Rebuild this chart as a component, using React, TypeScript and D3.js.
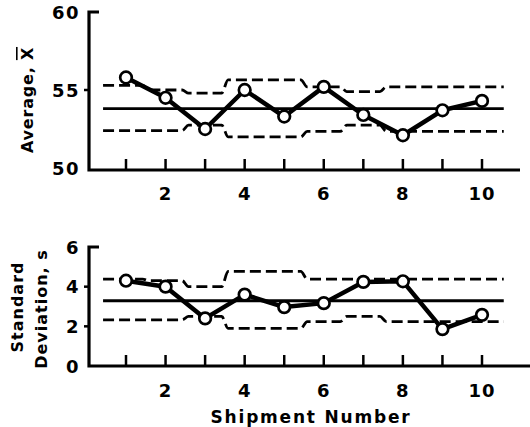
import React from "react";
import * as d3 from "d3";

// shipment numbers 1..10
const shipments = [1, 2, 3, 4, 5, 6, 7, 8, 9, 10];

// average chart
const avgValues = [55.8, 54.5, 52.5, 55.0, 53.3, 55.2, 53.4, 52.1, 53.7, 54.3];
const avgCenter = 53.8;
const avgUpper = [55.3, 55.0, 54.8, 55.65, 55.65, 55.2, 54.9, 55.2, 55.2, 55.2];
const avgLower = [52.4, 52.4, 52.75, 52.0, 52.0, 52.35, 52.75, 52.35, 52.35, 52.35];
const avgTicks = [50, 55, 60];

// standard deviation chart
const sdValues = [4.3, 4.0, 2.4, 3.6, 2.97, 3.17, 4.24, 4.27, 1.86, 2.58];
const sdCenter = 3.29;
const sdUpper = [4.38, 4.3, 4.0, 4.77, 4.77, 4.38, 4.38, 4.38, 4.38, 4.38];
const sdLower = [2.33, 2.33, 2.5, 1.9, 1.9, 2.24, 2.5, 2.24, 2.24, 2.24];
const sdTicks = [0, 2, 4, 6];

const xTickLabels = [2, 4, 6, 8, 10];

const FONT = "'DejaVu Sans', sans-serif";

const x = d3.scaleLinear().domain([1, 10]).range([126, 482]);

interface PanelProps {
  values: number[];
  center: number;
  upper: number[];
  lower: number[];
  ticks: number[];
  y: d3.ScaleLinear<number, number>;
  axisY: number;
  axisEnd: number;
  labelY: number;
}

const Panel = ({ values, center, upper, lower, ticks, y, axisY, axisEnd, labelY }: PanelProps) => {
  const [lo, hi] = y.domain();
  const stepLine = d3
    .line<[number, number]>()
    .x((d) => x(d[0]))
    .y((d) => y(d[1]))
    .curve(d3.curveMonotoneX);
  // flat run per shipment, smooth hand-drawn step between shipments
  const limitPts = (arr: number[]) => {
    const pts: [number, number][] = [];
    arr.forEach((v, i) => {
      const s = shipments[i];
      pts.push([i === 0 ? 0.42 : s - 0.42, v]);
      pts.push([i === arr.length - 1 ? 10.55 : s + 0.42, v]);
    });
    return pts;
  };
  const dataLine = d3
    .line<number>()
    .x((_, i) => x(shipments[i]))
    .y((d) => y(d));
  const axisX = 89;
  return (
    <g>
      {/* axes */}
      <path
        d={`M${axisX + 10},${y(hi)}H${axisX}V${axisY}H${axisEnd}`}
        fill="none"
        stroke="#000"
        strokeWidth={3.2}
      />
      {ticks.map((t) => (
        <g key={t}>
          {t !== hi && t !== lo && (
            <line x1={axisX - 5} x2={axisX} y1={y(t)} y2={y(t)} stroke="#000" strokeWidth={2.5} />
          )}
          <text
            x={80}
            y={y(t)}
            textAnchor="end"
            dominantBaseline="central"
            fontFamily={FONT}
            fontWeight="bold"
            fontSize={18}
            letterSpacing={1.5}
          >
            {t}
          </text>
        </g>
      ))}
      {shipments.map((s) => (
        <line key={s} x1={x(s)} x2={x(s)} y1={axisY} y2={axisY - 11} stroke="#000" strokeWidth={2.5} />
      ))}
      {xTickLabels.map((s) => (
        <text
          key={s}
          x={x(s)}
          y={labelY}
          textAnchor="middle"
          fontFamily={FONT}
          fontWeight="bold"
          fontSize={18}
          letterSpacing={1}
        >
          {s}
        </text>
      ))}
      {/* limits */}
      <line x1={x(0.42)} x2={x(10.55)} y1={y(center)} y2={y(center)} stroke="#000" strokeWidth={2.8} />
      <path d={stepLine(limitPts(upper)) || ""} fill="none" stroke="#000" strokeWidth={2.8} strokeDasharray="11 5" />
      <path d={stepLine(limitPts(lower)) || ""} fill="none" stroke="#000" strokeWidth={2.8} strokeDasharray="11 5" />
      {/* data */}
      <path d={dataLine(values) || ""} fill="none" stroke="#000" strokeWidth={4.5} strokeLinejoin="round" />
      {values.map((v, i) => (
        <circle key={i} cx={x(shipments[i])} cy={y(v)} r={5.8} fill="#fff" stroke="#000" strokeWidth={2.7} />
      ))}
    </g>
  );
};

export default function App() {
  const yAvg = d3.scaleLinear().domain([50, 60]).range([168, 12]);
  const ySd = d3.scaleLinear().domain([0, 6]).range([366, 247]);
  return (
    <svg
      width={530}
      height={427}
      style={{ position: "absolute", left: 0, top: 0, background: "#fff" }}
    >
      <rect width={530} height={427} fill="#fff" />
      <Panel
        values={avgValues}
        center={avgCenter}
        upper={avgUpper}
        lower={avgLower}
        ticks={avgTicks}
        y={yAvg}
        axisY={170}
        axisEnd={520}
        labelY={200}
      />
      <Panel
        values={sdValues}
        center={sdCenter}
        upper={sdUpper}
        lower={sdLower}
        ticks={sdTicks}
        y={ySd}
        axisY={366}
        axisEnd={530}
        labelY={397}
      />
      <text
        transform="translate(27,100) rotate(-90)"
        textAnchor="middle"
        dominantBaseline="central"
        fontFamily={FONT}
        fontWeight="bold"
        fontSize={16}
        letterSpacing={0.8}
      >
        Average, <tspan style={{ textDecoration: "overline" }}>X</tspan>
      </text>
      <text
        transform="translate(17,307) rotate(-90)"
        textAnchor="middle"
        dominantBaseline="central"
        fontFamily={FONT}
        fontWeight="bold"
        fontSize={16}
        letterSpacing={1}
      >
        Standard
      </text>
      <text
        transform="translate(41,309) rotate(-90)"
        textAnchor="middle"
        dominantBaseline="central"
        fontFamily={FONT}
        fontWeight="bold"
        fontSize={16}
        letterSpacing={1}
      >
        Deviation, s
      </text>
      <text
        x={311}
        y={423}
        textAnchor="middle"
        fontFamily={FONT}
        fontWeight="bold"
        fontSize={17}
        letterSpacing={1.8}
      >
        Shipment Number
      </text>
    </svg>
  );
}
